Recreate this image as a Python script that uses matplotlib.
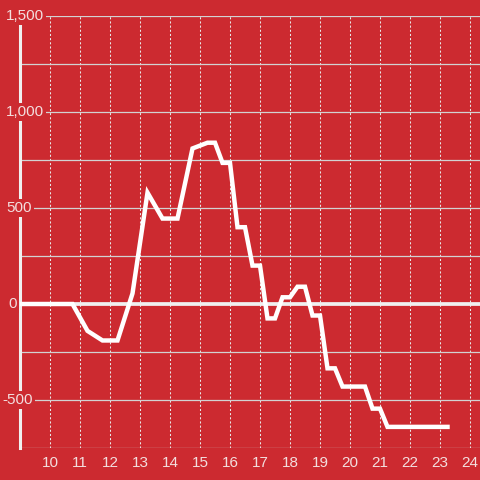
import numpy as np
import matplotlib.pyplot as plt

# data
hours = [9.0, 10.75, 11.25, 11.75, 12.25, 12.75, 13.25, 13.75, 14.25, 14.75,
         15.25, 15.5, 15.75, 16.0, 16.25, 16.5, 16.75, 17.0, 17.25, 17.5,
         17.75, 18.0, 18.25, 18.5, 18.75, 19.0, 19.25, 19.5, 19.75, 20.5,
         20.75, 21.0, 21.25, 23.25]
values = [0, 0, -140, -190, -190, 55, 580, 445, 445, 810,
          840, 840, 735, 735, 400, 400, 200, 200, -75, -75,
          35, 35, 90, 90, -60, -60, -335, -335, -430, -430,
          -545, -545, -640, -640]

xticks = list(range(10, 25))
ygrid = list(range(-750, 1501, 250))
ylabel_values = [1500, 1000, 500, 0, -500]
ylabel_texts = ['1,500', '1,000', '500', '0', '-500']
ylabel_left_px = [6, 6, 6, 8, 2]

bg = '#cc2a30'
txt_color = '#f3dede'

plt.rcParams['font.family'] = ['Liberation Sans', 'DejaVu Sans']

fig = plt.figure(figsize=(4.8, 4.8), dpi=100, facecolor=bg)
ax = fig.add_axes([20 / 480, 32 / 480, 460 / 480, 432 / 480])
ax.set_facecolor(bg)

ax.set_xlim(9, 9 + 460 / 30)
ax.set_ylim(-750, 1500)

#grid
ax.set_yticks(ygrid)
ax.set_yticklabels([])
ax.set_xticks(xticks)
ax.set_xticklabels([str(t) for t in xticks])
ax.tick_params(axis='both', length=0)
ax.tick_params(axis='x', pad=6, labelsize=11, labelcolor=txt_color)
ax.grid(axis='y', color='#d2d2d2', lw=0.9, zorder=0)
ax.grid(axis='x', color='#e8e8e8', lw=0.75, linestyle=(0, (2, 2)), zorder=0)

for s in ['top', 'right', 'bottom']:
    ax.spines[s].set_visible(False)
ax.spines['left'].set_color('#f0f0f0')
ax.spines['left'].set_linewidth(2.2)

# zero line
ax.axhline(0, color='#f0f0f0', lw=2.7, solid_capstyle='projecting',
           clip_on=False, zorder=3)

# series
ax.plot(hours, values, color='white', lw=3.2, solid_capstyle='projecting',
        solid_joinstyle='miter', zorder=4)

# y labels with a red box over the axis line
for v, t, px in zip(ylabel_values, ylabel_texts, ylabel_left_px):
    ax.text((px - 20) / 460, v, t, transform=ax.get_yaxis_transform(),
            ha='left', va='center', fontsize=11, color=txt_color, zorder=6,
            bbox=dict(boxstyle='square,pad=0.15', facecolor=bg, edgecolor='none'))

plt.savefig('out.png', dpi=100, facecolor=bg)
